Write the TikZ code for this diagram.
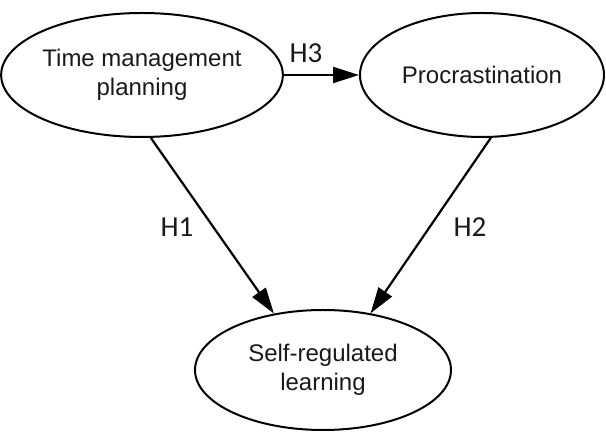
\documentclass[tikz,border=0pt]{standalone}
\usepackage{fontspec}
\setmainfont{Liberation Sans}
\newfontfamily\hfont{Carlito}
\usetikzlibrary{shapes.geometric,arrows.meta}
\tikzset{
  concept/.style={ellipse, draw=black, line width=1pt, inner sep=0pt, align=center,
    text=black!90, font=\fontsize{12}{14.5}\selectfont},
  link/.style={line width=1.1pt, -{Triangle[length=13pt,width=8pt]}},
  hyp/.style={font=\hfont\fontsize{14.5}{16}\selectfont, text=black!90}
}
\begin{document}
\begin{tikzpicture}[x=0.5pt,y=-0.5pt]
\useasboundingbox (0,0) rectangle (606,432);
\node[concept, minimum width=129pt, minimum height=62pt] (tmp) at (142,75) {Time management\\planning};
\node[concept, minimum width=122pt, minimum height=62pt] (pro) at (482,75) {Procrastination};
\node[concept, minimum width=128pt, minimum height=60pt] (srl) at (323,370) {Self-regulated\\learning};
\draw[link] (tmp.east) -- (pro.west);
\draw[link] (tmp.-82.6) -- (srl.131.8);
\draw[link] (pro.-82.6) -- (srl.50.5);
\node[hyp] (h3) at (306,53) {H3};
\node[hyp] (h1) at (177,227) {H1};
\node[hyp] (h2) at (470,227) {H2};
\end{tikzpicture}
\end{document}
